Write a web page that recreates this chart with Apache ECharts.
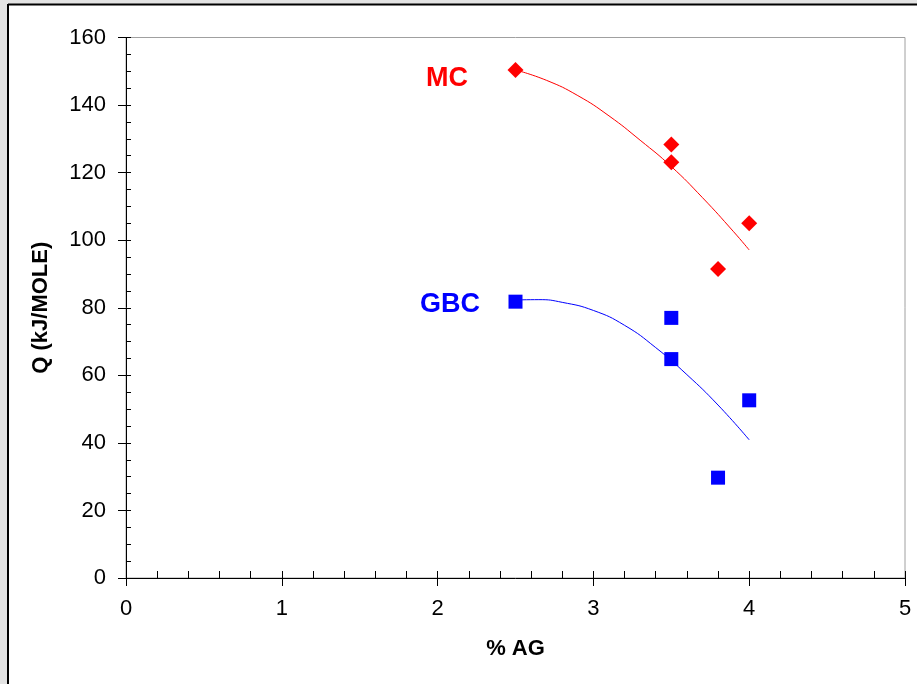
<!DOCTYPE html>
<html>
<head>
<meta charset="utf-8">
<script src="https://cdn.jsdelivr.net/npm/echarts@6/dist/echarts.min.js"></script>
<style>
html,body{margin:0;padding:0;background:#e3e3e3;}
#chart{width:917px;height:684px;}
</style>
</head>
<body>
<div id="chart"></div>
<script>
// Data
const mcPoints = [[2.5,150.4],[3.5,128.3],[3.5,123.1],[3.8,91.5],[4.0,105.0]];
const gbcPoints = [[2.5,81.8],[3.5,77.0],[3.5,64.8],[3.8,29.7],[4.0,52.6]];
const mcTrend = [[2.5,150.4],[2.7,147.3],[2.9,142.8],[3.1,136.8],[3.3,129.6],[3.5,121.8],[3.7,112.6],[3.9,102.5],[4.0,97.1]];
const gbcTrend = [[2.5,82.3],[2.65,82.4],[2.8,81.6],[3.0,79.2],[3.2,74.8],[3.4,68.2],[3.6,60.2],[3.8,51.2],[4.0,40.9]];
const xTicks = [0,1,2,3,4,5];
const yTicks = [0,20,40,60,80,100,120,140,160];
const seriesLabels = ['MC','GBC'];

const chart = echarts.init(document.getElementById('chart'));
const font = 'Liberation Sans, Arial, sans-serif';
const grid = {left:126, top:37.5, right:12, bottom:106};

chart.setOption({
  backgroundColor:'#e3e3e3',
  animation:false,
  graphic:[
    {type:'rect', z:-10, silent:true, shape:{x:8,y:5,width:909,height:679}, style:{fill:'#ffffff'}},
    {type:'line', z:-9, silent:true, shape:{x1:8,y1:4.5,x2:917,y2:4.5}, style:{stroke:'#000',lineWidth:2}},
    {type:'line', z:-9, silent:true, shape:{x1:8,y1:4,x2:8,y2:684}, style:{stroke:'#000',lineWidth:2}}
  ],
  grid:[Object.assign({show:true, borderColor:'#a0a0a0', borderWidth:1, backgroundColor:'transparent'}, grid)],
  xAxis:[
    {type:'value', min:xTicks[0], max:xTicks[xTicks.length-1], interval:1, gridIndex:0,
     name:'% AG', nameLocation:'middle', nameGap:60,
     nameTextStyle:{fontFamily:font, fontWeight:'bold', fontSize:22, color:'#000'},
     axisLine:{show:true, onZero:false, lineStyle:{color:'#000', width:1}},
     axisTick:{show:true, inside:false, length:8, lineStyle:{color:'#000'}},
     axisLabel:{fontFamily:font, fontSize:22, color:'#000', margin:20},
     splitLine:{show:false}},
    {type:'value', min:0, max:5, interval:0.2, gridIndex:0, position:'bottom',
     axisLine:{show:false}, axisTick:{show:true, inside:true, length:7, lineStyle:{color:'#000'}},
     axisLabel:{show:false}, splitLine:{show:false}}
  ],
  yAxis:[
    {type:'value', min:yTicks[0], max:yTicks[yTicks.length-1], interval:20, gridIndex:0,
     name:'Q (kJ/MOLE)', nameLocation:'middle', nameGap:74, nameRotate:90,
     nameTextStyle:{fontFamily:font, fontWeight:'bold', fontSize:22, color:'#000'},
     axisLine:{show:true, onZero:false, lineStyle:{color:'#000', width:1}},
     axisTick:{show:true, inside:false, length:8, lineStyle:{color:'#000'}},
     axisLabel:{fontFamily:font, fontSize:22, color:'#000', margin:20},
     splitLine:{show:false}},
    {type:'value', min:0, max:160, interval:5, gridIndex:0, position:'left',
     axisLine:{show:false}, axisTick:{show:true, inside:true, length:5, lineStyle:{color:'#000'}},
     axisLabel:{show:false}, splitLine:{show:false}}
  ],
  series:[
    {type:'line', data:mcTrend, smooth:0.5, symbol:'none', xAxisIndex:0, yAxisIndex:0,
     lineStyle:{color:'#ff0000', width:1}, z:3},
    {type:'line', data:gbcTrend, smooth:0.5, symbol:'none', xAxisIndex:0, yAxisIndex:0,
     lineStyle:{color:'#0000ff', width:1}, z:3},
    {type:'scatter', name:seriesLabels[0], data:mcPoints, symbol:'diamond', symbolSize:16,
     itemStyle:{color:'#ff0000', opacity:1}, z:4,
     markPoint:{symbol:'circle', symbolSize:0, data:[{coord:[2.06,147.9], value:seriesLabels[0]}],
       label:{show:true, formatter:seriesLabels[0], fontFamily:font, fontWeight:'bold', fontSize:27, color:'#ff0000', position:'inside'}}},
    {type:'scatter', name:seriesLabels[1], data:gbcPoints, symbol:'rect', symbolSize:14,
     itemStyle:{color:'#0000ff', opacity:1}, z:4,
     markPoint:{symbol:'circle', symbolSize:0, data:[{coord:[2.08,81.0], value:seriesLabels[1]}],
       label:{show:true, formatter:seriesLabels[1], fontFamily:font, fontWeight:'bold', fontSize:27, color:'#0000ff', position:'inside'}}}
  ]
});
</script>
</body>
</html>
